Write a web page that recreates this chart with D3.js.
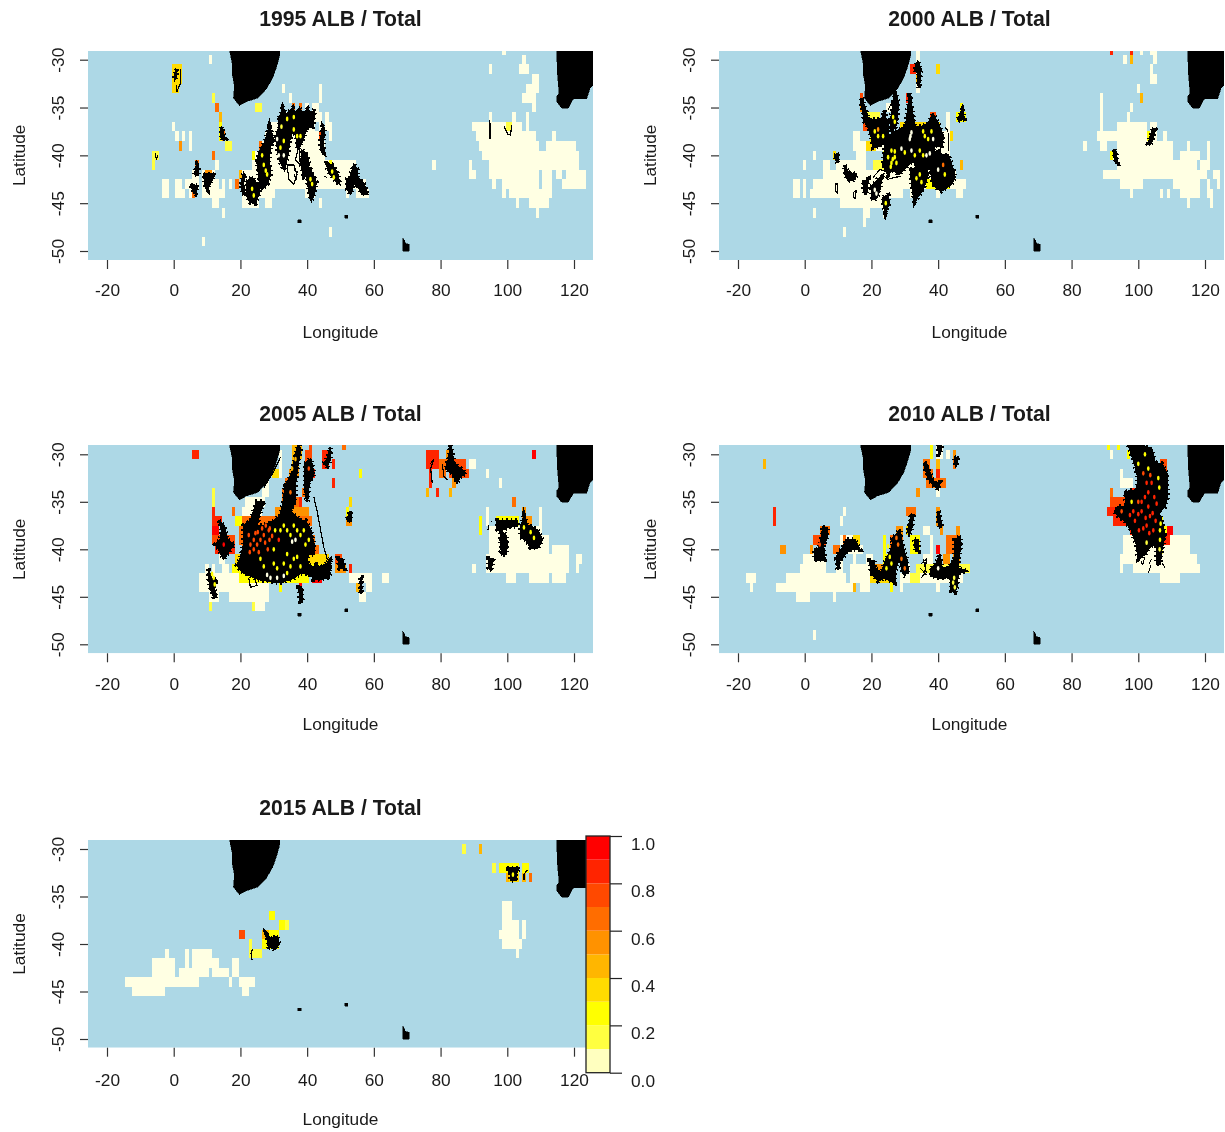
<!DOCTYPE html>
<html>
<head>
<meta charset="utf-8">
<script src="https://cdn.jsdelivr.net/npm/d3@7"></script>
<style>
  body { margin: 0; background: #fff; }
  svg { filter: blur(0.4px); }
  text { font-family: "Liberation Sans", Arial, sans-serif; fill: #1a1a1a; }
</style>
</head>
<body>
<div id="chart"></div>
<script>
const WIDTH = 1225;
const HEIGHT = 1132;

const lonTicks = [-20, 0, 20, 40, 60, 80, 100, 120];
const latTicks = [-30, -35, -40, -45, -50];
const legendTicks = [0, 0.2, 0.4, 0.6, 0.8, 1];
const years = [1995, 2000, 2005, 2010, 2015];

// heat.colors(10), reversed. zero cells get their own paler colour
const heatColors = ['#FFFFBF', '#FFFF40', '#FFFF00', '#FFDB00', '#FFB600', '#FF9200', '#FF6D00', '#FF4900', '#FF2400', '#FF0000'];
const ZERO_COLOR = '#FFFFE3';
const SEA_COLOR = '#ADD8E6';

// land, lon/lat
const africa = [[16.7, -28], [16.7, -29], [17.5, -30.35], [17.5, -31.4], [18.2, -32.8], [17.9, -34], [19.7, -34.8], [21.7, -34.4], [25.2, -34], [27.7, -33.1], [29.7, -31.9], [30.7, -30.9], [31.7, -29.7], [32.1, -28]];
const australia = [[114.8, -28], [114.8, -29], [115, -31.4], [115.5, -33.5], [114.8, -33.85], [114.8, -34.4], [116.3, -35.06], [118.3, -35.06], [119.8, -34.1], [123.8, -34.1], [124.8, -33], [125.8, -32.6], [127, -32], [127, -28]];
const kerguelen = [[68.6, -48.6], [69.2, -48.9], [69.4, -49.2], [70.6, -49.3], [70.6, -50], [68.6, -50]];
const marion = [[37.2, -46.75], [38.2, -46.75], [38.2, -47.05], [37.2, -47.05]];
const crozet = [[51.2, -46.25], [52.2, -46.25], [52.2, -46.55], [51.2, -46.55]];
const landShapes = [africa, australia, kerguelen, marion, crozet];

// cells: [lat, lonFrom, lonTo, value]
const cells1995 = [
  [-30, 11, 11, 0], [-31, 0, 1, .35], [-31, 2, 2, .3], [-32, 0, 1, .35], [-32, 2, 2, .3], [-33, 0, 1, .35], [-33, 33, 33, 0], [-33, 44, 44, 0],
  [-34, 12, 12, .15], [-34, 35, 35, 0], [-34, 44, 44, 0], [-35, 13, 13, .65], [-35, 25, 26, .15], [-35, 36, 36, .6], [-35, 38, 38, .6], [-35, 40, 40, 0], [-35, 42, 43, 0],
  [-36, 14, 14, .45], [-36, 33, 43, 0], [-36, 44, 44, 0], [-36, 46, 46, 0], [-37, 14, 14, .2], [-37, 0, 0, 0], [-37, 29, 42, 0], [-37, 44, 44, 0], [-37, 46, 47, 0],
  [-38, 1, 1, 0], [-38, 3, 3, 0], [-38, 5, 5, 0], [-38, 14, 14, .2], [-38, 15, 15, .65], [-38, 28, 43, 0], [-38, 29, 29, .6], [-38, 44, 44, .75], [-38, 47, 47, 0],
  [-39, 2, 2, .55], [-39, 5, 5, 0], [-39, 16, 17, .1], [-39, 26, 26, .6], [-39, 27, 45, 0], [-40, -6, -5, .15], [-40, 12, 12, .6], [-40, 24, 24, .2], [-40, 25, 45, 0],
  [-41, -6, -6, .1], [-41, 7, 7, .65], [-41, 13, 13, 0], [-41, 24, 54, 0], [-41, 47, 47, .2], [-42, 6, 7, 0], [-42, 9, 12, 0], [-42, 10, 11, .55], [-42, 20, 20, .4], [-42, 21, 53, 0],
  [-43, -3, -2, 0], [-43, 1, 2, 0], [-43, 4, 7, 0], [-43, 9, 13, 0], [-43, 15, 15, 0], [-43, 17, 17, 0], [-43, 19, 19, .65], [-43, 21, 57, 0],
  [-44, -3, -2, 0], [-44, 1, 3, 0], [-44, 5, 6, 0], [-44, 6, 6, .65], [-44, 9, 15, 0], [-44, 21, 30, 0], [-44, 40, 42, 0], [-44, 52, 52, 0], [-44, 55, 58, 0],
  [-45, 12, 13, 0], [-45, 21, 25, 0], [-45, 28, 29, 0], [-45, 44, 44, 0], [-46, 15, 15, 0], [-48, 47, 47, 0], [-49, 9, 9, 0],
  [-29, 99, 99, 0], [-30, 105, 105, 0], [-31, 95, 95, 0], [-31, 104, 106, 0], [-32, 108, 109, 0], [-33, 106, 109, 0], [-34, 105, 108, 0], [-35, 108, 108, 0],
  [-36, 95, 95, 0], [-36, 102, 102, 0], [-36, 106, 106, 0], [-37, 90, 104, 0], [-37, 100, 101, .1], [-37, 106, 106, 0], [-38, 91, 108, 0], [-38, 114, 114, 0], [-39, 92, 109, 0], [-39, 112, 120, 0],
  [-40, 93, 121, 0], [-41, 78, 78, 0], [-41, 89, 89, 0], [-41, 95, 121, 0], [-42, 89, 90, 0], [-42, 95, 109, 0], [-42, 111, 113, 0], [-42, 115, 116, 0], [-42, 118, 123, 0],
  [-43, 96, 96, 0], [-43, 99, 109, 0], [-43, 111, 113, 0], [-43, 117, 123, 0], [-44, 99, 99, 0], [-44, 101, 113, 0], [-45, 103, 103, 0], [-45, 107, 112, 0], [-46, 109, 109, 0]
];
const cells2000 = [
  [-29, 34, 34, 0], [-30, 34, 34, 0], [-31, 32, 33, .8], [-31, 34, 34, 0], [-31, 40, 40, .35], [-32, 34, 34, .45], [-33, 34, 34, 0], [-34, 17, 17, .75], [-34, 31, 31, .8],
  [-35, 17, 17, .55], [-35, 47, 47, .25], [-35, 25, 26, 0], [-36, 18, 18, .65], [-36, 19, 22, .15], [-36, 43, 43, 0], [-36, 38, 39, .75], [-36, 46, 48, .25],
  [-37, 18, 19, .7], [-37, 20, 22, .15], [-37, 29, 40, .3], [-37, 43, 43, 0], [-38, 15, 16, 0], [-38, 20, 23, .25], [-38, 30, 43, 0], [-38, 44, 44, .3],
  [-39, 15, 18, 0], [-39, 19, 21, .3], [-39, 22, 43, 0], [-40, 3, 3, 0], [-40, 9, 9, .3], [-40, 16, 18, 0], [-40, 24, 27, .2], [-40, 28, 43, 0],
  [-41, 0, 0, 0], [-41, 6, 7, 0], [-41, 10, 18, 0], [-41, 21, 26, .15], [-41, 27, 41, 0], [-41, 43, 43, 0], [-41, 47, 47, .4],
  [-42, 6, 6, 0], [-42, 7, 19, 0], [-42, 20, 45, 0], [-43, -3, -2, 0], [-43, 0, 0, 0], [-43, 3, 48, 0], [-43, 37, 43, .25],
  [-44, -3, -2, 0], [-44, 0, 0, 0], [-44, 2, 5, 0], [-44, 6, 25, 0], [-44, 26, 29, 0], [-44, 32, 33, 0], [-44, 40, 40, 0], [-44, 46, 47, 0],
  [-45, 11, 17, 0], [-45, 18, 24, 0], [-46, 3, 3, 0], [-46, 18, 19, 0], [-46, 24, 24, 0], [-47, 18, 18, 0], [-48, 12, 12, 0],
  [-29, 92, 92, .8], [-29, 98, 98, .8], [-29, 101, 101, 0], [-29, 104, 105, 0], [-30, 96, 96, 0], [-30, 98, 98, .4], [-30, 105, 105, 0], [-31, 104, 104, 0], [-32, 104, 105, 0], [-33, 100, 100, 0],
  [-34, 101, 101, .4], [-34, 89, 89, 0], [-35, 89, 89, 0], [-35, 98, 98, 0], [-36, 89, 89, 0], [-36, 97, 97, 0], [-37, 89, 89, 0], [-37, 94, 102, 0], [-37, 104, 105, 0],
  [-38, 88, 93, 0], [-38, 94, 105, 0], [-38, 103, 103, .25], [-38, 108, 108, 0], [-39, 84, 84, 0], [-39, 89, 90, 0], [-39, 94, 110, 0], [-39, 115, 115, 0], [-39, 121, 121, 0],
  [-40, 92, 110, 0], [-40, 92, 92, .25], [-40, 113, 117, 0], [-40, 118, 118, 0], [-40, 121, 121, 0], [-41, 94, 117, 0], [-41, 119, 121, 0],
  [-42, 90, 94, 0], [-42, 95, 102, 0], [-42, 103, 117, 0], [-42, 118, 120, 0], [-42, 123, 124, 0], [-43, 95, 101, 0], [-43, 111, 117, 0], [-43, 118, 118, 0], [-43, 121, 121, 0], [-43, 124, 124, 0],
  [-44, 98, 98, 0], [-44, 107, 107, 0], [-44, 109, 109, 0], [-44, 113, 118, 0], [-44, 121, 122, 0], [-45, 115, 115, 0], [-45, 122, 122, 0]
];
const cells2005 = [
  [-29, 36, 38, .45], [-29, 41, 41, .75], [-29, 51, 51, .6], [-30, 6, 7, .85], [-30, 32, 32, 0], [-30, 36, 38, .4], [-30, 40, 41, .75], [-30, 45, 46, .85],
  [-31, 45, 46, .85], [-31, 48, 48, .8], [-31, 32, 32, 0], [-31, 36, 37, .45], [-31, 40, 41, .75], [-32, 32, 32, 0], [-32, 30, 31, .3], [-32, 56, 56, .25], [-32, 35, 37, .5], [-32, 40, 42, .8],
  [-33, 34, 36, .6], [-33, 48, 48, .8], [-33, 28, 28, 0], [-33, 40, 40, .7], [-34, 12, 12, .1], [-34, 27, 28, 0], [-34, 33, 36, .6], [-34, 39, 40, .65],
  [-35, 12, 12, .15], [-35, 22, 27, 0], [-35, 53, 53, .3], [-35, 33, 37, .6], [-35, 38, 38, .85], [-36, 12, 12, .85], [-36, 18, 18, .65], [-36, 21, 26, 0], [-36, 31, 40, .55], [-36, 52, 52, .25],
  [-37, 12, 14, .8], [-37, 19, 20, .25], [-37, 21, 41, .6], [-37, 52, 53, .5], [-38, 12, 13, .9], [-38, 20, 40, .65], [-39, 12, 18, .75], [-39, 20, 42, .65], [-40, 13, 18, .8], [-40, 21, 43, .6],
  [-41, 14, 15, 0], [-41, 19, 46, .3], [-41, 49, 50, .7], [-42, 10, 10, 0], [-42, 12, 12, 0], [-42, 15, 16, 0], [-42, 18, 46, .25], [-42, 49, 51, .55], [-42, 53, 53, .85],
  [-43, 8, 20, 0], [-43, 20, 35, .25], [-43, 36, 40, .25], [-43, 42, 44, .9], [-43, 53, 59, 0], [-44, 8, 18, 0], [-44, 19, 28, 0], [-44, 32, 32, .25], [-44, 38, 38, .9], [-44, 55, 56, .45], [-44, 58, 59, 0],
  [-45, 11, 13, 0], [-45, 17, 28, 0], [-45, 38, 38, .9], [-45, 56, 57, 0], [-46, 11, 11, .1], [-46, 24, 24, .1], [-46, 25, 27, 0],
  [-30, 76, 79, .85], [-30, 82, 83, .5], [-30, 108, 108, .9], [-31, 76, 79, .85], [-31, 80, 83, .65], [-31, 84, 87, .7], [-31, 89, 90, 0], [-32, 77, 77, .85], [-32, 80, 81, .65], [-32, 83, 88, .75], [-32, 94, 94, 0],
  [-33, 77, 77, .8], [-33, 84, 84, .55], [-33, 98, 98, 0], [-34, 76, 76, .45], [-34, 79, 79, .85], [-34, 83, 83, .45], [-35, 102, 102, .6], [-36, 94, 94, 0], [-36, 105, 105, .5], [-36, 110, 110, 0],
  [-37, 92, 92, .25], [-37, 94, 94, 0], [-37, 97, 103, .25], [-37, 105, 107, .5], [-37, 110, 110, 0], [-38, 92, 92, .25], [-38, 95, 110, 0], [-39, 95, 112, 0], [-40, 95, 111, 0], [-40, 112, 112, 0], [-40, 114, 118, 0],
  [-41, 94, 118, 0], [-41, 121, 122, 0], [-42, 90, 90, 0], [-42, 94, 118, 0], [-42, 121, 121, 0], [-43, 63, 64, 0], [-43, 100, 102, 0], [-43, 107, 111, 0], [-43, 112, 112, 0], [-43, 114, 117, 0]
];
const cells2010 = [
  [-29, 38, 38, .25], [-29, 40, 41, 0], [-30, 38, 38, .25], [-30, 40, 41, 0], [-30, 43, 43, 0], [-30, 45, 45, .55], [-31, -12, -12, .45], [-31, 36, 37, .6], [-31, 40, 40, .45], [-31, 45, 45, .6],
  [-32, 36, 38, .65], [-32, 40, 40, .8], [-33, 37, 42, .65], [-34, 34, 34, .55], [-34, 40, 40, 0], [-36, -9, -9, .8], [-36, 12, 12, 0], [-36, 31, 33, .6], [-36, 40, 40, .55],
  [-37, -9, -9, .8], [-37, 11, 11, 0], [-37, 32, 32, .3], [-37, 40, 40, .55], [-38, 5, 7, .65], [-38, 28, 29, .55], [-38, 31, 31, .3], [-38, 36, 37, 0], [-38, 41, 41, .55], [-38, 46, 46, .55],
  [-39, 3, 6, .75], [-39, 11, 11, 0], [-39, 12, 12, .6], [-39, 13, 14, 0], [-39, 15, 16, .3], [-39, 24, 24, .25], [-39, 26, 29, .6], [-39, 32, 34, .25], [-39, 38, 38, 0], [-39, 43, 46, .65],
  [-40, -7, -6, .55], [-40, 2, 2, .5], [-40, 9, 10, .65], [-40, 12, 17, 0], [-40, 24, 24, .25], [-40, 26, 29, .65], [-40, 32, 34, .25], [-40, 38, 38, 0], [-40, 40, 40, .9], [-40, 43, 46, .65],
  [-41, 0, 1, 0], [-41, 2, 6, 0], [-41, 10, 11, 0], [-41, 15, 15, 0], [-41, 19, 20, 0], [-41, 24, 27, .25], [-41, 29, 30, .7], [-41, 36, 38, 0], [-41, 42, 43, .5], [-41, 45, 46, .5],
  [-42, -1, 6, 0], [-42, 10, 11, 0], [-42, 14, 19, 0], [-42, 20, 23, .55], [-42, 24, 27, .25], [-42, 30, 31, 0], [-42, 34, 49, .12],
  [-43, -17, -15, 0], [-43, -5, 12, 0], [-43, 14, 19, 0], [-43, 20, 27, .35], [-43, 29, 31, 0], [-43, 32, 34, .15], [-43, 35, 47, 0],
  [-44, -16, -16, 0], [-44, -8, -6, 0], [-44, -5, 14, 0], [-44, 15, 15, .45], [-44, 17, 19, 0], [-44, 26, 26, .25], [-44, 29, 29, 0], [-44, 40, 40, 0], [-44, 44, 45, .25],
  [-45, -2, 1, 0], [-45, 9, 9, 0], [-49, 3, 3, 0],
  [-29, 91, 91, .25], [-29, 94, 94, .25], [-30, 92, 92, 0], [-30, 97, 97, .25], [-31, 107, 108, .75], [-32, 95, 95, 0], [-32, 101, 108, .75], [-33, 95, 98, 0], [-33, 101, 108, .8], [-34, 92, 92, .6], [-34, 98, 108, .8],
  [-35, 92, 98, .75], [-35, 98, 107, .8], [-36, 91, 106, .8], [-37, 93, 105, .85], [-37, 106, 107, .25], [-38, 98, 105, .85], [-38, 106, 108, .25], [-38, 109, 110, .95],
  [-39, 96, 106, 0], [-39, 100, 102, .15], [-39, 107, 109, .85], [-39, 110, 112, 0], [-39, 113, 115, 0], [-40, 96, 112, 0], [-40, 113, 115, 0], [-40, 107, 107, .15],
  [-41, 95, 95, 0], [-41, 96, 117, 0], [-42, 95, 95, 0], [-42, 99, 118, 0], [-43, 107, 112, 0]
];
const cells2015 = [
  [-37, 29, 30, .25], [-38, 32, 33, .25], [-38, 34, 34, .15], [-39, 20, 21, .7], [-39, 27, 28, .45], [-39, 29, 31, .25], [-40, 23, 23, .1], [-40, 27, 31, .25],
  [-41, 23, 26, .1], [-41, -2, -2, 0], [-41, 4, 4, 0], [-41, 6, 10, 0], [-41, 11, 11, 0], [-42, -6, 0, 0], [-42, 4, 4, 0], [-42, 6, 13, 0], [-42, 18, 19, 0],
  [-43, -6, 0, 0], [-43, 2, 10, 0], [-43, 12, 16, 0], [-43, 18, 19, 0], [-44, -14, 7, 0], [-44, 17, 17, 0], [-44, 20, 24, 0], [-45, -12, -3, 0], [-45, 21, 22, 0],
  [-30, 87, 87, .1], [-30, 92, 92, .45], [-32, 96, 96, .1], [-32, 98, 103, .25], [-32, 105, 106, .25], [-33, 100, 100, .45], [-33, 101, 103, .3], [-33, 105, 105, .4], [-33, 107, 107, .65],
  [-36, 99, 101, 0], [-37, 99, 101, 0], [-38, 99, 103, 0], [-38, 105, 105, 0], [-39, 98, 103, 0], [-39, 105, 105, 0], [-40, 99, 104, 0], [-41, 103, 103, 0]
];

// dense track clusters, lon/lat, filled
const blobs1995 = [
  [[31.7, -36.1], [32.7, -35.06], [33.7, -35.76], [35.7, -35.06], [36.7, -35.9], [37.7, -35.06], [38.7, -35.76], [40.2, -35.17], [41.2, -35.76], [42.2, -35.2], [41.7, -37], [39.7, -37.15], [38.7, -38.4], [37.2, -39.4], [36.7, -38], [35.7, -37.3], [34.7, -38.4], [34.2, -39.8], [33.2, -41.5], [31.7, -40.5], [31.2, -39.4], [30.7, -38], [31.7, -37]],
  [[28.7, -37], [30, -38.5], [29, -39], [28.5, -40.5], [29, -42], [28, -43], [26.5, -43.5], [25.5, -42], [25, -40.5], [26, -39.5], [27.5, -38.5]],
  [[22, -42.8], [23.5, -42.3], [25, -43], [26, -42.8], [25.5, -44], [24.5, -45], [23, -44.9], [22, -44.2]],
  [[20.3, -43], [21, -41.9], [21.3, -42.1], [20.8, -43], [21.3, -44], [20.8, -44.1]],
  [[38.5, -39.5], [40, -40], [40.5, -41], [39, -42], [38.3, -41]],
  [[39.5, -41.3], [41, -41.5], [42.7, -42.8], [42, -44], [41.3, -44.7], [40.5, -43.5]],
  [[44, -38.5], [44.7, -37], [45.2, -37.2], [44.8, -38.5], [45, -39.7], [44.2, -39.5]],
  [[46, -40.9], [47.5, -41], [49, -41.8], [49.7, -43], [48.5, -42.6], [47, -42], [46.2, -41.5]],
  [[54, -41], [55, -41.5], [55, -42.3], [57, -43], [58, -44], [56.5, -44], [55, -43], [54, -43], [53, -44], [52, -43.5], [52, -42.5], [53, -42.3]],
  [[5.2, -43.1], [7.2, -43.2], [6.5, -44], [6, -43.9]],
  [[6.3, -42], [7, -41], [7.4, -41.2], [7.4, -42.1]],
  [[9, -42], [12.2, -42], [10.5, -43.2], [10.3, -43.6], [9.7, -43.4]],
  [[14.2, -38.1], [14.3, -37], [15, -38], [15.5, -38.3], [15, -38.4]],
  [[0.3, -31.5], [1, -31], [0.5, -32], [0.3, -32.1]]
];
const lines1995 = [
  [[2, -31], [2, -32.5], [1, -33.3], [0.8, -32.6]], [[-5.5, -39.8], [-5.2, -40.5], [-4.8, -40]], [[34, -41], [36, -41], [37, -42], [36, -43], [34.5, -42.5], [34, -41]],
  [[36, -41.5], [37, -41.7], [36.7, -42.4], [36, -42]], [[39, -42], [41, -41.6], [42, -43]], [[45, -42.2], [46, -42.3]], [[37.5, -39], [36.5, -40.5], [38, -41], [37.5, -39]],
  [[94.7, -36.3], [95, -37.2], [94.8, -38.3], [94.6, -37.2], [94.7, -36.3]], [[99, -37], [100.2, -37.8], [101, -37.9], [101.3, -36.8], [101, -37.8]]
];
const gaps1995 = [
  [32.3, -37, .1], [33, -38.5, .25], [31, -38.3, 0], [36, -37.3, .25], [37, -38, .25], [38, -38, .25], [36, -36, .25], [34, -36.2, .25], [27, -41, .25], [27.6, -41.6, .25], [28, -42, .25], [26.5, -40, .25],
  [23.5, -43.5, .25], [24, -44.2, .25], [41, -42.5, .25], [41.5, -43, .25], [47.5, -41.7, .25], [48, -42.3, .25], [32, -39.2, .25], [31.5, -40, 0], [33, -40, 0]
];

const blobs2000 = [
  [[17, -34], [18, -35], [19, -36.2], [21, -36.3], [23, -36.3], [24, -35.3], [24.5, -37], [23, -37.5], [22.5, -39], [20.5, -39.2], [20, -38], [19, -37], [18, -36.5], [17.5, -35.5], [16.8, -34.5]],
  [[27, -33.3], [28, -34.5], [27.7, -36], [27.2, -37], [26, -37.5], [25.7, -36.5], [26.2, -35.5]],
  [[24, -37], [26, -38.5], [28.5, -39], [29, -40], [28, -41], [26, -41.5], [25, -42], [23.5, -41], [24, -39.5]],
  [[31.5, -33.5], [32, -35], [33, -37], [34, -38.5], [33.5, -40], [31, -41], [29, -40.5], [28.5, -39], [29.5, -38], [30.5, -36.5], [31, -35]],
  [[33, -37], [35, -37], [37, -36.7], [38.5, -35.7], [40, -36.7], [41.5, -38], [41, -39], [38, -39], [36, -39.5], [34, -39]],
  [[32, -41.5], [36, -41], [37, -42], [35.5, -43.5], [33, -44.8], [32.3, -43.5], [32, -42.5]],
  [[38, -40], [40, -39.5], [41, -40], [43, -40], [44.5, -41.5], [45, -42.3], [44, -43], [41, -43.7], [40, -43.5], [38.5, -43], [38, -42]],
  [[46, -36.2], [47.2, -35.3], [47.8, -36.2], [46.5, -36.3]],
  [[12, -41], [13, -41.8], [15.5, -42], [15, -42.5], [13, -42.6], [12.2, -42]],
  [[17.5, -42.8], [19, -42.5], [18.5, -44], [18, -44]],
  [[20, -43.3], [22, -42.5], [23, -42.3], [22.5, -43.5], [21.5, -44.5], [20.3, -44.6]],
  [[23.5, -44.4], [25, -44.2], [25.2, -45], [24.2, -46], [23.6, -45.2]],
  [[33, -31], [33.9, -30.2], [34.8, -31], [34.5, -32], [34.2, -33], [34, -31.5]],
  [[9, -40], [10, -39.8], [9.8, -40.8]],
  [[103, -38.8], [104.4, -37.2], [105, -37.3], [104.2, -38.5], [103.4, -38.9]],
  [[92.7, -39.4], [93.3, -39.8], [93.8, -40.8], [93.3, -40.8], [92.8, -40.2]],
  [[25, -38], [30, -37], [31, -41], [28, -42], [25, -41]],
  [[33, -39], [38.5, -38.5], [39, -41], [36, -41.5], [33, -41]],
  [[21, -37], [25, -36.5], [25, -38.5], [22, -39]]
];
const lines2000 = [
  [[9.2, -43], [9.9, -43], [9.7, -43.9], [9.2, -43.7], [9.2, -43]], [[14.7, -43.8], [15.4, -43.7], [15.2, -44.5], [14.7, -44.4], [14.7, -43.8]], [[20.5, -42.3], [22.5, -41.5], [25, -41.7], [27, -41.2], [29, -41.8]],
  [[23, -42], [25, -42.5], [27, -42.3], [29, -42.2]], [[27.5, -33.5], [26.5, -34.3], [25, -35.2]], [[39.5, -37.5], [41, -38.5], [40.5, -39.5]], [[43, -37.7], [43, -39.5]], [[42, -37], [43, -37.5]]
];
const gaps2000 = [
  [31.7, -38, 0], [31.5, -38.3, 0], [32, -37.6, 0], [25, -40.2, .25], [26, -40.8, .25], [27, -40.2, .25], [27, -39.6, .25], [26, -39.5, .25], [36, -38, .25], [37, -38.3, .25], [35.5, -37.5, .25], [38, -37.5, .25],
  [34.5, -42, .25], [35, -42.8, .25], [33.5, -42.4, .25], [40, -41.5, 0], [41.5, -41, .65], [42, -42, .25], [27, -36.5, .25], [26.5, -36, .25], [22, -38, .25], [21, -37.5, .25], [33, -40, .25], [32, -39.5, 0], [38.5, -38.3, 0], [21.5, -44, 0], [21, -43.6, 0], [24.3, -45, .25],
  [26.4, -40.4, .25], [27.5, -40.8, .25], [25.8, -41.2, .25], [35.5, -40, .25], [36.5, -40, 0], [37.5, -39.8, 0], [34.5, -39.5, .25], [29, -39.3, 0], [30, -39.7, .25], [22, -37.3, .55], [23.5, -38, .25]
];

const blobs2005 = [
  [[21, -37.5], [23, -37], [25, -35], [27, -35], [25.5, -36.5], [25, -37.5], [27, -37.5], [30, -37], [32, -36.5], [33, -35], [33.5, -33], [34, -34.5], [35, -36], [38, -37], [39.5, -37], [41, -38], [42, -39.5], [42, -40.5], [40, -40.5], [40, -41.5], [42, -42], [45, -42], [47, -41], [46.5, -42.5], [45, -43], [42, -43], [40, -42.5], [38, -42.5], [36, -43], [32, -43.5], [26, -43.2], [21, -42.5], [19, -41.7], [20, -41], [21, -39.5]],
  [[34, -33], [35.5, -32], [36.5, -30], [37.5, -29], [38, -29.5], [37, -31.5], [36.5, -33], [36.3, -35], [35, -36], [33.5, -36], [33.5, -34]],
  [[39.5, -31], [41, -30.5], [42, -32], [41.5, -32.5], [40.5, -33], [40, -35], [39.5, -34]],
  [[13.5, -37], [15, -37.5], [16, -39], [18, -39.5], [16, -40.5], [15, -41], [13.5, -40], [12.5, -39.5], [14, -39], [14.5, -38]],
  [[45, -31], [46, -30.5], [47, -29.3], [47, -30.5], [46, -31.2]],
  [[10.5, -42], [11, -43], [13, -43.3], [12, -44], [12.8, -45], [12, -45], [11, -44], [10.5, -43]],
  [[49.3, -41], [50.5, -41], [51.2, -42], [49.8, -42]],
  [[52, -36.8], [53, -36], [53, -37], [52.3, -37]],
  [[56, -43], [56.3, -43], [56.2, -44.5], [56, -44.7]],
  [[37.5, -44], [38.3, -44], [38.5, -45.5], [38, -45.5]],
  [[42.5, -41.5], [44, -42], [46, -41.5], [47, -41], [46.5, -43], [42, -43.2]],
  [[83, -29], [84, -31], [86, -31.5], [87.5, -32], [86, -32.3], [85, -33], [83.5, -32], [81.5, -31.5], [82.5, -30.5]],
  [[97, -37], [103, -37], [103, -37.5], [100, -37.7], [98, -38], [97, -37.9]],
  [[104, -38], [105, -36.5], [106, -37.5], [107, -37.6], [109, -38], [110.5, -39], [109, -39.9], [107, -39.8], [105.5, -39], [104, -38.7]],
  [[98, -38], [99.5, -38.5], [100, -39.5], [99.5, -40.5], [98.5, -40.5], [98, -39.5]],
  [[94.5, -41], [95.8, -41], [95, -42.2], [94.5, -42]]
];
const lines2005 = [
  [[27, -33.5], [30, -31.8], [32, -30.3]], [[77, -31], [78, -30.5], [77, -31.5], [77.5, -33]], [[80.5, -31], [81, -32.3], [82, -32.7]], [[42, -34.5], [43, -36], [45, -39.8], [46, -41]],
  [[97.5, -40.2], [98.3, -39.9], [99.4, -40.2], [98.3, -40.6], [97.5, -40.2]], [[97.5, -38.9], [98.5, -38.7], [99.3, -39], [98.5, -39.4], [97.5, -38.9]], [[94.5, -37.4], [94.2, -38]], [[95, -37], [95.5, -37.1]], [[22.5, -43], [24, -42.8], [25, -43.8], [23, -44], [22.5, -43]]
];
const gaps2005 = [
  [24, -39, .75], [25, -39.5, .75], [26, -39, .75], [24.5, -38.3, .75], [27, -38.5, .75], [28.5, -38, .75], [28.7, -39, .75], [31.5, -39, .85], [30, -40, .25], [33, -37.5, .25], [34, -38, .25], [35, -38.5, .25],
  [36.5, -39, 0], [35.5, -39.2, 0], [37, -38, .25], [38, -38.5, .25], [39, -38, .25], [40.5, -39, .25], [26, -41, .25], [27, -41.8, .25], [30, -41.5, .25], [31, -42, .25], [33, -41.5, .25], [34, -40.5, .25],
  [35, -41.8, .25], [36, -41, .25], [37, -40.8, .25], [31, -43, 0], [33, -42.8, 0], [28, -42.7, 0], [29, -43, 0], [12, -43, .25], [11.5, -42.6, .25], [12.3, -43.7, .25], [35, -34, .6], [35.5, -31.5, .45], [36.5, -30.5, .45], [15, -39.5, .9], [40.5, -31.5, .7], [105, -37.7, .25], [107, -38.2, .25], [108, -38.8, .25],
  [22.5, -38.5, .75], [23, -39.5, .75], [24, -40, .75], [25.2, -38.2, .75], [26.5, -37.8, .75], [27.6, -37.5, .75], [28.8, -37.8, .75], [27.4, -39.3, .75], [28.2, -40, .75], [25.5, -40.3, .75], [22.8, -40.3, .75], [29.5, -38.6, .75], [30.4, -38, .25], [32, -38, .25], [36, -37.5, .25], [39.5, -39.5, .25], [38, -41.8, .25], [34, -42.5, .25]
];

const blobs2010 = [
  [[97, -29], [99, -29], [101, -29], [104, -29.5], [105, -31], [107, -31], [108.5, -32], [108.7, -34.5], [108, -35.5], [106, -36], [107, -37], [108, -38.5], [107, -40], [106.5, -41.5], [105.5, -41.5], [105.5, -39.5], [104, -39.5], [103, -40], [102, -40.5], [100, -41], [99.5, -39.5], [98, -38], [96, -37], [94, -36.5], [93, -36], [94, -35.5], [96.5, -35.5], [96, -34], [98, -33.8], [99.5, -34], [100, -32.5], [99, -31], [98, -30]],
  [[5.5, -37.7], [6.8, -37.8], [6.5, -39], [5.5, -39.5], [6, -41], [6, -41.1], [3, -41.1], [3, -40], [4, -40], [4.8, -39.5]],
  [[9.5, -41], [10, -40.5], [11.5, -39.8], [12.5, -39], [15, -39], [16.5, -40], [14, -40], [12.5, -40.3], [11, -41], [10.3, -41.3], [10, -42.2]],
  [[19.5, -41.2], [20.8, -41.2], [21, -42], [23, -42.5], [24.5, -41], [26, -40], [27, -39], [28, -41], [27, -42.5], [27, -43.5], [24, -43], [22, -43.3], [20, -42.5]],
  [[26, -39], [28.5, -38], [29.5, -40], [30.5, -41], [31, -42.5], [29.5, -42.5], [28.5, -41], [27.5, -40]],
  [[31, -38], [32, -36.3], [32.5, -36.5], [32, -37.8], [31.3, -38.5]],
  [[33, -39], [34, -39], [34, -40.2], [33.3, -40.2]],
  [[38, -42], [39.5, -41.5], [40, -41], [40.5, -40.5], [41, -42], [43, -42], [45, -41], [45, -39], [46.5, -38.7], [46.8, -39.5], [46, -41], [46, -42], [48.5, -42.3], [46, -42.5], [44, -42.5], [42, -43], [40, -43], [38, -42.8]],
  [[43, -42.5], [46, -42.6], [45.5, -44], [45, -44.5], [44, -44.4], [44, -43.5]],
  [[36, -30.8], [37, -31.5], [38, -32.5], [39, -33], [40.5, -33], [40, -33.7], [38.5, -33.2], [37, -32.5], [36.2, -31.5]],
  [[40, -29], [41, -29], [40.6, -30], [40.2, -30]],
  [[45, -30.4], [46, -30.3], [45.6, -31], [45.3, -31.2]],
  [[40, -36], [40.5, -36.5], [41, -37.6], [40.6, -37.7], [40, -37]]
];
const lines2010 = [
  [[35, -41.5], [36.5, -41], [36, -42.5], [35, -43]], [[34.7, -42], [36.5, -42.7]], [[35.5, -41], [36.5, -42.5]], [[107.2, -41.5], [108, -41.9]], [[102, -40.8], [101.3, -41.6], [100.8, -41.3]], [[104, -41], [103.3, -41.5]],
  [[103, -42.5], [103.8, -41.7]], [[100, -40], [101, -40.5], [100.3, -41.2]], [[29.5, -42.5], [30, -42.8], [29.7, -43]]
];
const gaps2010 = [
  [104, -33, .8], [106, -32.5, .25], [106.3, -33.5, .25], [103, -34, .8], [103, -35.5, .8], [101, -36, .85], [100, -35, .75], [98, -35, .25], [103.5, -36.5, .85], [104.5, -38, .85], [106.5, -38, .25], [106.5, -39, .25],
  [100, -31, .25], [102, -30, .25], [103, -31.5, .25], [99, -37, .85], [95, -36, .75], [102.5, -37.5, .85], [25, -39.7, .25], [25.5, -40.8, .25], [26, -41.5, .25], [24.5, -42, .25], [28, -39.5, .65], [27.5, -38.8, .65], [29, -41, .65], [30, -42, .6],
  [44.5, -43.5, .12], [44.8, -43, .12], [45, -44, .12], [40, -42, 0], [4.5, -39.5, .75],
  [101.5, -32, .75], [102.5, -33, .8], [103.6, -32.2, .75], [104.8, -34.5, .8], [105.5, -35.2, .8], [102, -34.5, .8], [101, -35, .8], [100, -36.3, .85], [98.5, -36, .8], [97.5, -36.4, .8], [102.2, -36.7, .85], [104.3, -36.2, .85], [105.2, -37, .85], [103.3, -38.3, .85], [101.5, -37.8, .85], [100.2, -38, .85], [106.7, -37.3, .25], [106.4, -40, .15], [102.5, -39.3, .15]
];

const blobs2015 = [
  [[27.8, -39], [29, -39.4], [31, -39.2], [31.5, -40], [30.5, -40.5], [28.5, -40.3]],
  [[100, -32], [103.5, -32], [102.5, -32.7], [102.5, -33.3], [101, -33.3], [101, -32.7]]
];
const lines2015 = [
  [[23.5, -41.7], [23.2, -41], [23.6, -40.5]], [[105, -33.3], [105, -32.7], [106, -32.2]]
];
const gaps2015 = [[101.7, -32.7, .25]];

const heat = d3.scaleQuantize().domain([0, 1]).range(heatColors);
const cellColor = (v) => (v === 0 ? ZERO_COLOR : heat(v));

const svg = d3.select('#chart').append('svg')
  .attr('width', WIDTH)
  .attr('height', HEIGHT)
  .style('display', 'block');

const panels = [
  { year: years[0], left: 88, right: 593, top: 51, bottom: 260, lon20: 107, lon120: 574, lat30: 59.7, lat50: 251, titleY: 19, tickY: 290, labelY: 332, cells: cells1995, blobs: blobs1995, lines: lines1995, gaps: gaps1995 },
  { year: years[1], left: 719, right: 1224, top: 51, bottom: 260, lon20: 738, lon120: 1205, lat30: 59.7, lat50: 251, titleY: 19, tickY: 290, labelY: 332, cells: cells2000, blobs: blobs2000, lines: lines2000, gaps: gaps2000 },
  { year: years[2], left: 88, right: 593, top: 445, bottom: 653.3, lon20: 107, lon120: 574, lat30: 454.3, lat50: 644.3, titleY: 414, tickY: 684, labelY: 724, cells: cells2005, blobs: blobs2005, lines: lines2005, gaps: gaps2005 },
  { year: years[3], left: 719, right: 1224, top: 445, bottom: 653.3, lon20: 738, lon120: 1205, lat30: 454.3, lat50: 644.3, titleY: 414, tickY: 684, labelY: 724, cells: cells2010, blobs: blobs2010, lines: lines2010, gaps: gaps2010 },
  { year: years[4], left: 88, right: 586, top: 840, bottom: 1047.7, lon20: 107, lon120: 574, lat30: 849, lat50: 1039, titleY: 808, tickY: 1080, labelY: 1119, cells: cells2015, blobs: blobs2015, lines: lines2015, gaps: gaps2015 }
];

function drawPanel(p, i) {
  const x = d3.scaleLinear().domain([-20, 120]).range([p.lon20, p.lon120]);
  const y = d3.scaleLinear().domain([-30, -50]).range([p.lat30, p.lat50]);
  const line = d3.line().x((d) => x(d[0])).y((d) => y(d[1]));
  const g = svg.append('g');

  svg.append('clipPath').attr('id', `clip${i}`)
    .append('rect')
    .attr('x', p.left)
    .attr('y', p.top)
    .attr('width', p.right - p.left)
    .attr('height', p.bottom - p.top);

  const map = g.append('g').attr('clip-path', `url(#clip${i})`);

  map.append('rect')
    .attr('x', p.left)
    .attr('y', p.top)
    .attr('width', p.right - p.left)
    .attr('height', p.bottom - p.top)
    .style('fill', SEA_COLOR);

  // catch cells
  map.selectAll('.cell').data(p.cells).enter().append('rect')
    .attr('class', 'cell')
    .attr('x', (d) => x(d[1] - 0.5))
    .attr('y', (d) => y(d[0] + 0.5))
    .attr('width', (d) => x(d[2] + 0.5) - x(d[1] - 0.5))
    .attr('height', (d) => y(d[0] - 0.5) - y(d[0] + 0.5))
    .attr('shape-rendering', 'crispEdges')
    .style('fill', (d) => cellColor(d[3]));

  // land
  map.selectAll('.land').data(landShapes).enter().append('path')
    .attr('class', 'land')
    .attr('d', (d) => `${line(d)}Z`)
    .attr('shape-rendering', 'crispEdges')
    .style('fill', '#000')
    .style('stroke', '#000')
    .style('stroke-width', 0.5);

  // track clusters
  map.selectAll('.blob').data(p.blobs).enter().append('path')
    .attr('class', 'blob')
    .attr('d', (d) => `${line(d)}Z`)
    .attr('shape-rendering', 'crispEdges')
    .style('fill', '#000')
    .style('stroke', '#000')
    .style('stroke-width', 2);

  // dashed wider outline, gives the clusters their frayed edge
  map.selectAll('.fray').data(p.blobs).enter().append('path')
    .attr('class', 'fray')
    .attr('d', (d) => `${line(d)}Z`)
    .attr('shape-rendering', 'crispEdges')
    .style('fill', 'none')
    .style('stroke', '#000')
    .style('stroke-width', 5)
    .style('stroke-dasharray', '1.5 3');

  map.selectAll('.track').data(p.lines).enter().append('path')
    .attr('class', 'track')
    .attr('d', line)
    .attr('shape-rendering', 'crispEdges')
    .style('fill', 'none')
    .style('stroke', '#000')
    .style('stroke-width', 1.2);

  // openings in the clusters where the cell colour shows through
  map.selectAll('.gap').data(p.gaps).enter().append('ellipse')
    .attr('class', 'gap')
    .attr('cx', (d) => x(d[0]))
    .attr('cy', (d) => y(d[1]))
    .attr('rx', 1.3)
    .attr('ry', 2.4)
    .style('fill', (d) => cellColor(d[2]));

  const xAxis = d3.axisBottom(x).tickValues(lonTicks).tickSize(9).tickSizeOuter(0).tickFormat((d) => String(d));
  const yAxis = d3.axisLeft(y).tickValues(latTicks).tickSize(8).tickSizeOuter(0).tickFormat((d) => String(d));

  const ax = g.append('g').attr('transform', `translate(0,${p.bottom})`).call(xAxis);
  ax.select('.domain').remove();
  ax.selectAll('line').style('stroke', '#333').style('stroke-width', 1.2);
  ax.selectAll('text')
    .attr('y', p.tickY - p.bottom)
    .attr('dy', '0.35em')
    .style('font-size', '17.3px')
    .style('font-family', '"Liberation Sans", Arial, sans-serif');

  const ay = g.append('g').attr('transform', `translate(${p.left},0)`).call(yAxis);
  ay.select('.domain').remove();
  ay.selectAll('line').style('stroke', '#333').style('stroke-width', 1.2);
  ay.selectAll('text')
    .attr('x', 0)
    .attr('dy', 0)
    .attr('transform', 'translate(-29,0) rotate(-90)')
    .style('text-anchor', 'middle')
    .attr('dominant-baseline', 'middle')
    .style('font-size', '17.3px')
    .style('font-family', '"Liberation Sans", Arial, sans-serif');

  const midX = p.left === 719 ? 969.5 : 340.5;
  g.append('text')
    .attr('x', midX)
    .attr('y', p.titleY)
    .attr('dy', '0.35em')
    .style('text-anchor', 'middle')
    .style('font-size', '21.2px')
    .style('font-weight', 'bold')
    .text(`${p.year} ALB / Total`);

  g.append('text')
    .attr('x', midX)
    .attr('y', p.labelY)
    .attr('dy', '0.35em')
    .style('text-anchor', 'middle')
    .style('font-size', '17.3px')
    .text('Longitude');

  g.append('text')
    .attr('transform', `translate(${p.left - 69},${(p.lat30 + p.lat50) / 2}) rotate(-90)`)
    .attr('dy', '0.35em')
    .style('text-anchor', 'middle')
    .style('font-size', '17.3px')
    .text('Latitude');
}

panels.forEach(drawPanel);

// colour key, sits in the last panel
const keyY = d3.scaleLinear().domain([0, 1]).range([1072.7, 836]);
const keyLeft = 586;
const keyRight = 610;
const key = svg.append('g');

key.selectAll('rect').data(heatColors).enter().append('rect')
  .attr('x', keyLeft)
  .attr('y', (d, i) => keyY((i + 1) / heatColors.length))
  .attr('width', keyRight - keyLeft)
  .attr('height', (d, i) => keyY(i / heatColors.length) - keyY((i + 1) / heatColors.length))
  .style('fill', (d) => d);

key.append('rect')
  .attr('x', keyLeft)
  .attr('y', keyY(1))
  .attr('width', keyRight - keyLeft)
  .attr('height', keyY(0) - keyY(1))
  .style('fill', 'none')
  .style('stroke', '#222')
  .style('stroke-width', 1.3);

const keyAxis = key.append('g')
  .attr('transform', `translate(${keyRight},0)`)
  .call(d3.axisRight(keyY).tickValues(legendTicks).tickSize(12).tickSizeOuter(0).tickFormat(d3.format('.1f')));
keyAxis.select('.domain').remove();
keyAxis.selectAll('line').style('stroke', '#222').style('stroke-width', 1.2);
keyAxis.selectAll('text')
  .attr('x', 21)
  .attr('y', 8)
  .style('font-size', '17.3px')
  .style('font-family', '"Liberation Sans", Arial, sans-serif');
</script>
</body>
</html>
